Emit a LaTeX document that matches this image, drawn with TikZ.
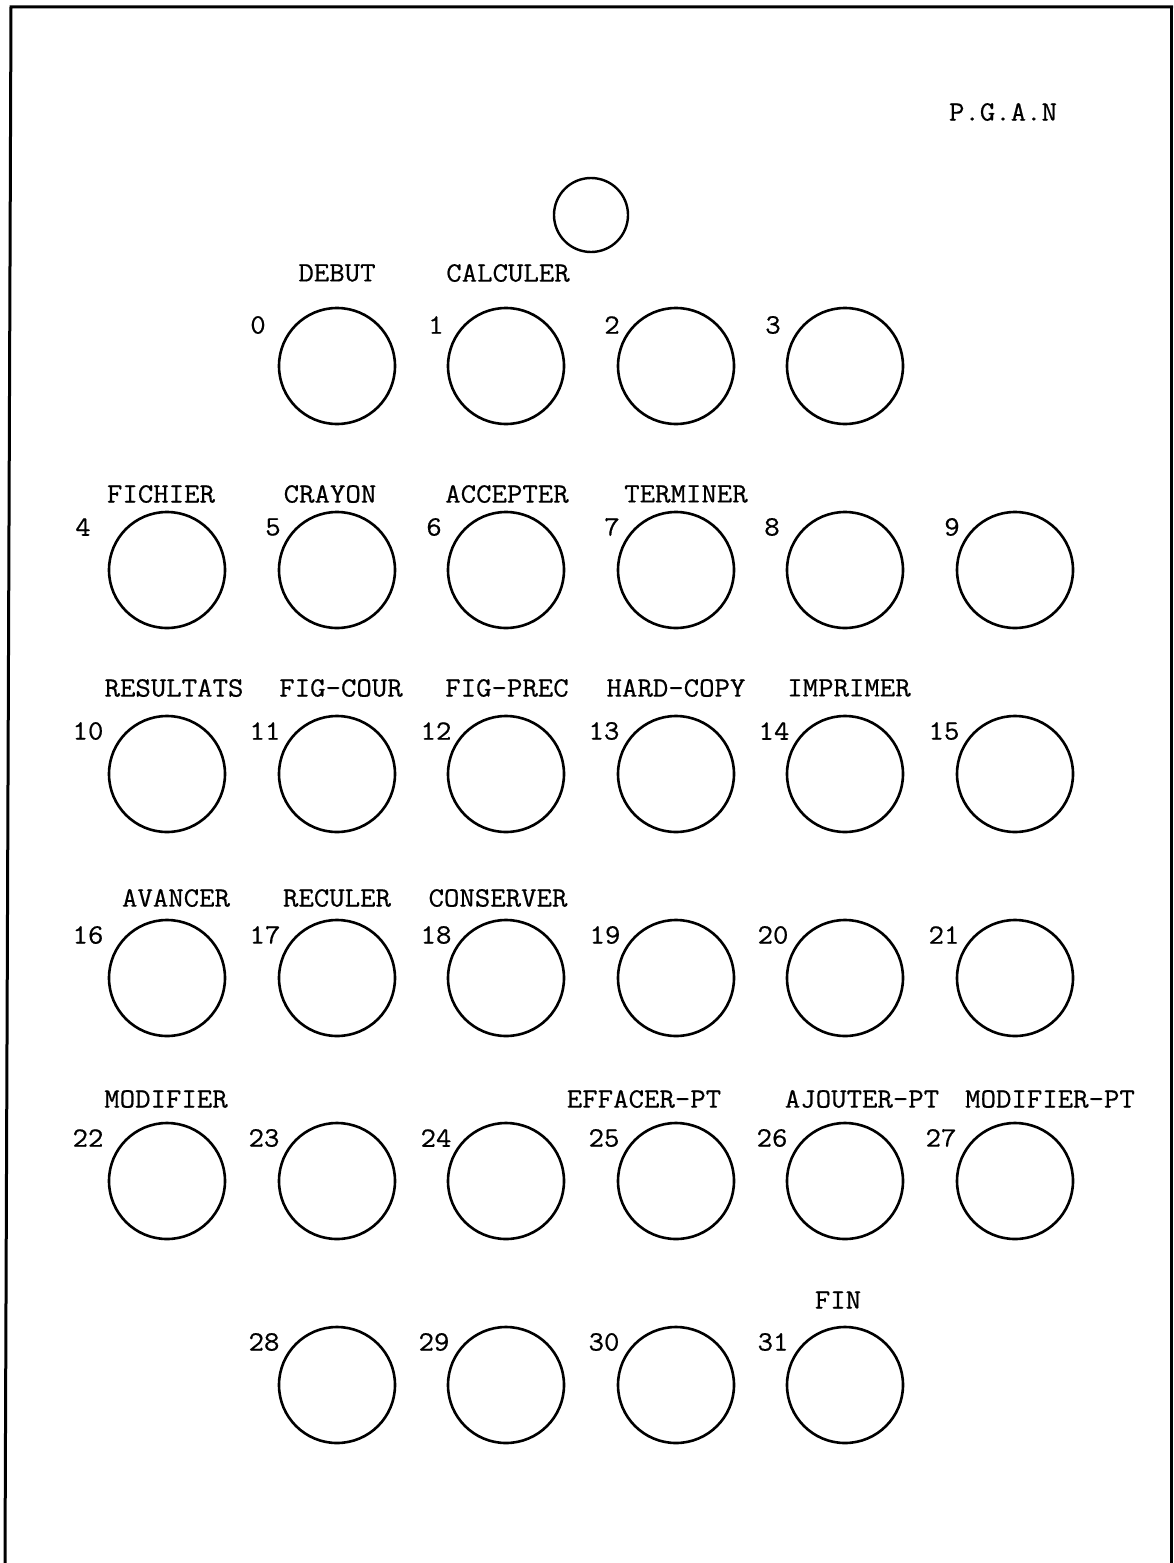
\documentclass[tikz,border=0pt]{standalone}
\usepackage{fontspec}
\newfontfamily\tw{Latin Modern Mono}[FakeStretch=1.07, FakeBold=0.6]
\tikzset{
  key/.style={circle, draw=black, line width=2.6pt, minimum size=116pt, inner sep=0pt},
  smallkey/.style={circle, draw=black, line width=2.4pt, minimum size=74pt, inner sep=0pt},
  num/.style={inner sep=0pt, font=\tw\fontsize{28}{32}\selectfont},
  lab/.style={inner sep=0pt, font=\tw\fontsize{28}{32}\selectfont},
  frame/.style={line width=3pt, line join=miter}
}
\begin{document}
\begin{tikzpicture}[x=1pt, y=-1pt]
\useasboundingbox (0,0) rectangle (1173,1563);
% frame
\coordinate (fbl) at (5,1563);
\coordinate (ftl) at (11,7);
\coordinate (ftr) at (1173,7);
\coordinate (frt) at (1171,7);
\coordinate (frb) at (1171,1563);
\draw[frame] (fbl) -- (ftl) -- (ftr);
\draw[frame] (frt) -- (frb);
% title
\node[lab] (title) at (1003,112) {P.G.A.N};
% top small circle
\node[smallkey] (ct) at (591,215) {};
% row 0
\foreach \n/\x/\nx in {0/337/258, 1/506/436, 2/676/612, 3/845/773}{
  \node[key] (c\n) at (\x,366) {};
  \node[num] (n\n) at (\nx,325) {\n};
}
% row 1
\foreach \n/\x/\nx in {4/167/83, 5/337/273, 6/506/434, 7/676/612, 8/845/772, 9/1015/952}{
  \node[key] (c\n) at (\x,570) {};
  \node[num] (n\n) at (\nx,527) {\n};
}
% row 2
\foreach \n/\x/\nx in {10/167/88, 11/337/265, 12/506/436, 13/676/604, 14/845/774, 15/1015/944}{
  \node[key] (c\n) at (\x,774) {};
  \node[num] (n\n) at (\nx,731) {\n};
}
% row 3
\foreach \n/\x/\nx in {16/167/88, 17/337/265, 18/506/436, 19/676/605, 20/845/773, 21/1015/944}{
  \node[key] (c\n) at (\x,978) {};
  \node[num] (n\n) at (\nx,935) {\n};
}
% row 4
\foreach \n/\x/\nx in {22/167/88, 23/337/264, 24/506/436, 25/676/604, 26/845/772, 27/1015/941}{
  \node[key] (c\n) at (\x,1181) {};
  \node[num] (n\n) at (\nx,1138) {\n};
}
% row 5
\foreach \n/\x/\nx in {28/337/264, 29/506/434, 30/676/604, 31/845/773}{
  \node[key] (c\n) at (\x,1385) {};
  \node[num] (n\n) at (\nx,1342) {\n};
}
% labels
\node[lab] (lDEBUT) at (337,273) {DEBUT};
\node[lab] (lCALCULER) at (508,273) {CALCULER};
\node[lab] (lFICHIER) at (161,494) {FICHIER};
\node[lab] (lCRAYON) at (330,494) {CRAYON};
\node[lab] (lACCEPTER) at (507,494) {ACCEPTER};
\node[lab] (lTERMINER) at (686,494) {TERMINER};
\node[lab] (lRESULTATS) at (174,688) {RESULTATS};
\node[lab] (lFIGCOUR) at (341,688) {FIG-COUR};
\node[lab] (lFIGPREC) at (507,688) {FIG-PREC};
\node[lab] (lHARDCOPY) at (676,688) {HARD-COPY};
\node[lab] (lIMPRIMER) at (849,688) {IMPRIMER};
\node[lab] (lAVANCER) at (176,898) {AVANCER};
\node[lab] (lRECULER) at (337,898) {RECULER};
\node[lab] (lCONSERVER) at (498,898) {CONSERVER};
\node[lab] (lMODIFIER) at (166,1099) {MODIFIER};
\node[lab] (lEFFACER) at (644,1099) {EFFACER-PT};
\node[lab] (lAJOUTER) at (862,1099) {AJOUTER-PT};
\node[lab] (lMODIFIERPT) at (1050,1099) {MODIFIER-PT};
\node[lab] (lFIN) at (838,1300) {FIN};
\end{tikzpicture}
\end{document}
